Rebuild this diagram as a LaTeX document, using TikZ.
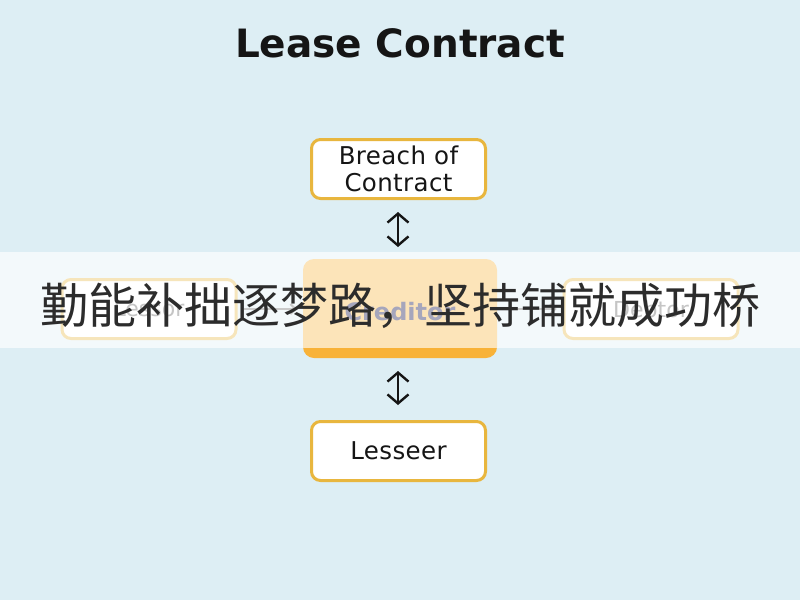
\documentclass[tikz,border=0pt]{standalone}
\usepackage{fontspec}
\setmainfont{DejaVu Sans}
\newfontfamily\cjk{Noto Sans CJK SC}
\usetikzlibrary{arrows.meta}
\definecolor{bgblue}{HTML}{DDEEF4}
\definecolor{boxgold}{HTML}{E8B63E}
\definecolor{midorange}{HTML}{F8B238}
\definecolor{txtdark}{HTML}{151515}
\tikzset{
  boxw/.style={draw=boxgold, line width=3pt, fill=white, rounded corners=9pt,
    minimum width=174pt, minimum height=59pt, text=txtdark,
    font=\fontsize{24.5}{27.5}\selectfont\addfontfeature{LetterSpace=1.5}, align=center, inner sep=0pt},
  midbox/.style={fill=midorange, rounded corners=11pt, minimum width=194pt, minimum height=99pt, inner sep=0pt},
  dbl/.style={{Straight Barb[length=9pt,width=21pt,line width=2.4pt]}-{Straight Barb[length=9pt,width=21pt,line width=2.4pt]}, line width=2.4pt, draw=txtdark},
  hid/.style={text=#1, font=\fontsize{22}{26}\selectfont},
  harrow/.style={-{Straight Barb[length=5pt,width=10pt]}, line width=2pt, draw=gray!80!black}
}
\begin{document}
\begin{tikzpicture}[x=1pt,y=-1pt]
\fill[bgblue] (0,0) rectangle (800,600);
\useasboundingbox (0,0) rectangle (800,600);

\node[font=\fontsize{39}{44}\selectfont\bfseries, text=txtdark] (title) at (400,43) {Lease Contract};

\node[boxw] (breach) at (398.5,169) {Breach of\\Contract};
\node[boxw] (lessee) at (398.5,451) {Lesseer};
\node[boxw] (left) at (149,309) {};
\node[boxw] (right) at (651,309) {};
\node[midbox] (mid) at (400,308.5) {};

\node[hid=gray!70!black] (lt) at (left) {Lessor};
\node[hid=gray!70!black] (rt) at (right) {Debtor};
\node[hid=black!75!blue, font=\fontsize{24}{28}\selectfont\bfseries] (mt) at (400,312) {Creditor};

\draw[harrow] (left.east) ++(6,0) coordinate (la) -- ([xshift=-6pt]mid.west |- la);
\draw[harrow] ([xshift=6pt]mid.east |- la) -- ([xshift=-6pt]right.west |- la);

\coordinate (a1t) at (398,212);
\coordinate (a1b) at (398,247);
\coordinate (a2t) at (398,371);
\coordinate (a2b) at (398,405);
\draw[dbl] (a1t) -- (a1b);
\draw[dbl] (a2t) -- (a2b);

\fill[white, opacity=0.65] (0,252) rectangle (800,348);

\node[font=\cjk\fontsize{48}{52}\selectfont, text=txtdark!90!white, inner sep=0pt] (motto) at (400,306) {勤能补拙逐梦路，坚持铺就成功桥};
\end{tikzpicture}
\end{document}
